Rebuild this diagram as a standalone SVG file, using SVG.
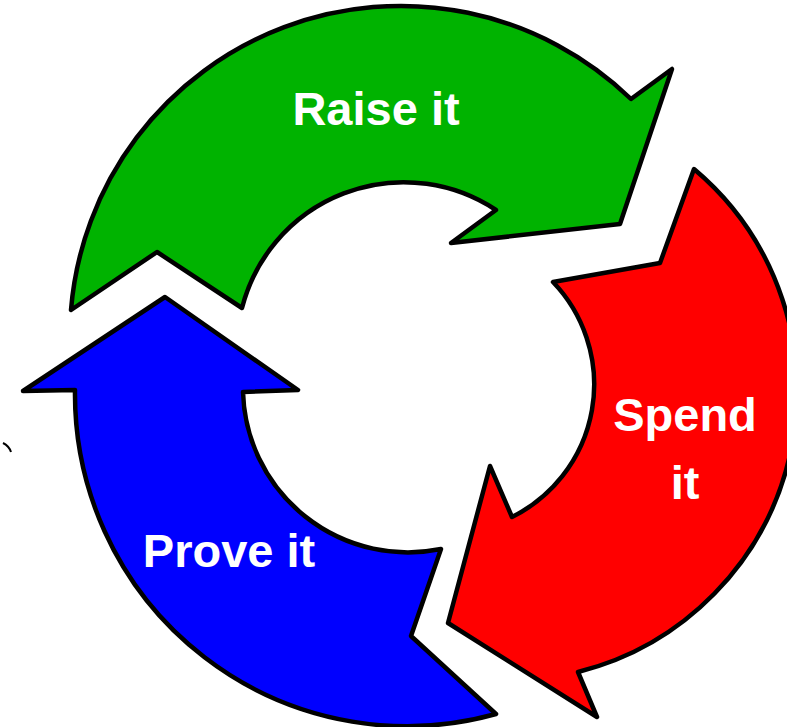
<svg xmlns="http://www.w3.org/2000/svg" width="787" height="727" viewBox="0 0 787 727">
<style>
.arr{stroke:#000;stroke-width:4.5;stroke-linejoin:round}
.lbl{font-family:"Liberation Sans",Arial,sans-serif;font-weight:bold;font-size:47px;fill:#fff;text-anchor:middle}
</style>
<rect width="787" height="727" fill="#fff"/>
<g id="connectors"/>
<g id="raise">
<path class="arr" fill="#00B300" d="M 71 310 A 331 331 0 0 1 631 99 L 672 69 L 620 224 L 451 243 L 496 210 A 167 167 0 0 0 242 308 L 157 252 Z"/>
<text class="lbl" x="376" y="125">Raise it</text>
</g>
<g id="spend">
<path class="arr" fill="#FF0000" d="M 694 169 A 290 290 0 0 1 578 672 L 597 717 L 448 623 L 490 466 L 512 517 A 148 148 0 0 0 553 282 L 660 263 Z"/>
<text class="lbl" x="685" y="431">Spend</text>
<text class="lbl" x="685" y="499">it</text>
</g>
<g id="prove">
<path class="arr" fill="#0000FF" d="M 496 714 A 332 332 0 0 1 75 390 L 23 391 L 165 297 L 298 390 L 243 392 A 165 165 0 0 0 441 549 L 411 636 Z"/>
<text class="lbl" x="229" y="567">Prove it</text>
</g>
<path d="M 3 443 Q 9 446 11 452" fill="none" stroke="#000" stroke-width="2"/>
</svg>
